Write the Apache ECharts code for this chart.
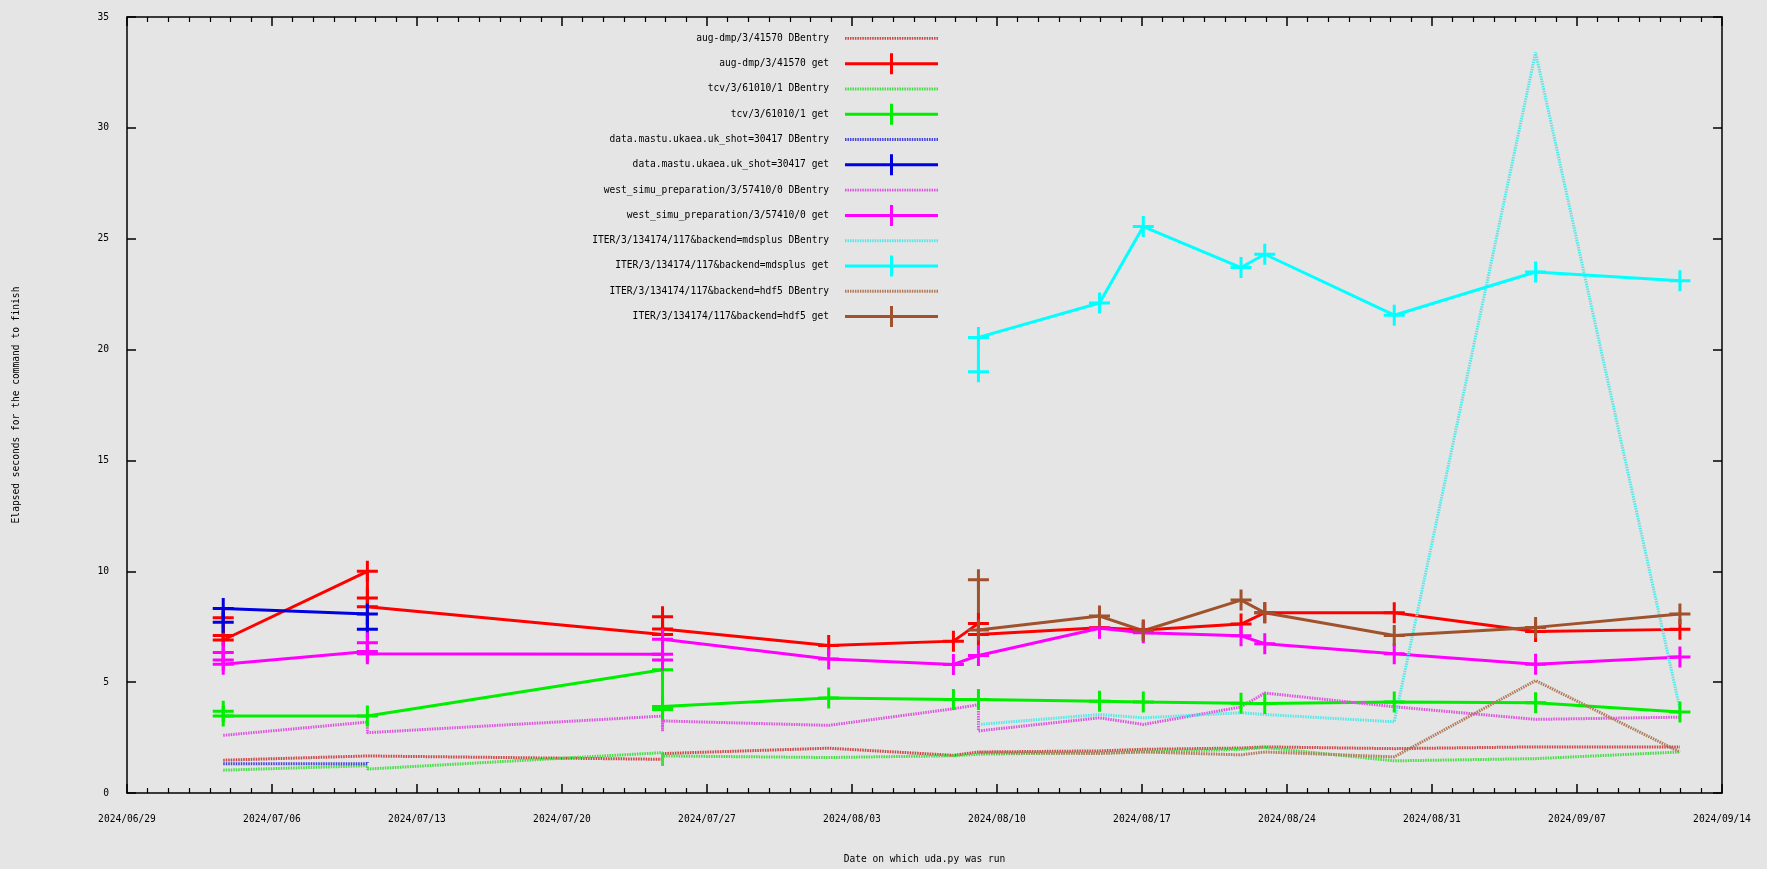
<!DOCTYPE html>
<html><head><meta charset="utf-8">
<script src="https://cdn.jsdelivr.net/npm/echarts@6/dist/echarts.min.js"></script>
<style>html,body{margin:0;padding:0;background:#e5e5e5}#c{width:1767px;height:869px}</style>
</head><body><div id="c"></div>
<script>
// ---- axis definitions ----
const axisStartDate = '2024-06-29 00:00';
const axisEndDate = '2024-09-14 00:00';
const xTickDays = 7;            // one labelled tick per week
const yMin = 0, yMax = 35, yStep = 5;
const xTitle = 'Date on which uda.py was run';
const yTitle = 'Elapsed seconds for the command to finish';

// ---- series data (run date/time, elapsed seconds) ----
const augDbDates = ['2024-07-03 15:30','2024-07-10 14:30','2024-07-10 14:30','2024-07-24 20:30','2024-07-24 20:30','2024-08-01 21:00','2024-08-07 21:30','2024-08-09 02:30','2024-08-14 22:45','2024-08-17 01:30','2024-08-21 18:45','2024-08-22 22:15','2024-08-29 04:15','2024-09-05 00:00','2024-09-11 23:15'];
const augDbValues = [1.48,1.67,1.75,1.52,1.78,2.02,1.7,1.85,1.9,1.97,2.03,2.08,2.0,2.08,2.08];

const augGetDates = ['2024-07-03 15:30','2024-07-03 15:30','2024-07-03 15:30','2024-07-10 14:30','2024-07-10 14:30','2024-07-10 14:30','2024-07-24 20:30','2024-07-24 20:30','2024-07-24 20:30','2024-08-01 21:00','2024-08-07 21:30','2024-08-09 02:30','2024-08-09 02:30','2024-08-14 22:45','2024-08-17 01:30','2024-08-21 18:45','2024-08-22 22:15','2024-08-29 04:15','2024-09-05 00:00','2024-09-11 23:15'];
const augGetValues = [7.9,7.1,6.9,10.0,8.8,8.4,7.15,7.95,7.4,6.65,6.85,7.65,7.15,7.45,7.35,7.62,8.13,8.13,7.28,7.38];

const tcvDbDates = ['2024-07-03 15:30','2024-07-10 14:30','2024-07-10 14:30','2024-07-24 20:30','2024-07-24 20:30','2024-07-24 20:30','2024-08-01 21:00','2024-08-07 21:30','2024-08-09 02:30','2024-08-14 22:45','2024-08-17 01:30','2024-08-21 18:45','2024-08-22 22:15','2024-08-29 04:15','2024-09-05 00:00','2024-09-11 23:15'];
const tcvDbValues = [1.03,1.23,1.08,1.82,1.22,1.67,1.6,1.68,1.75,1.82,1.85,1.97,2.05,1.45,1.55,1.85];

const tcvGetDates = ['2024-07-03 15:30','2024-07-03 15:30','2024-07-10 14:30','2024-07-24 20:30','2024-07-24 20:30','2024-07-24 20:30','2024-08-01 21:00','2024-08-07 21:30','2024-08-09 02:30','2024-08-14 22:45','2024-08-17 01:30','2024-08-21 18:45','2024-08-22 22:15','2024-08-29 04:15','2024-09-05 00:00','2024-09-11 23:15'];
const tcvGetValues = [3.69,3.47,3.47,5.56,3.77,3.9,4.29,4.22,4.22,4.14,4.11,4.05,4.04,4.1,4.07,3.65];

const mastuDbDates = ['2024-07-03 15:30','2024-07-10 14:30','2024-07-10 14:30'];
const mastuDbValues = [1.32,1.32,1.4];

const mastuGetDates = ['2024-07-03 15:30','2024-07-03 15:30','2024-07-10 14:30','2024-07-10 14:30'];
const mastuGetValues = [7.7,8.32,8.07,7.38];

const westDbDates = ['2024-07-03 15:30','2024-07-10 14:30','2024-07-10 14:30','2024-07-24 20:30','2024-07-24 20:30','2024-07-24 20:30','2024-08-01 21:00','2024-08-07 21:30','2024-08-09 02:30','2024-08-09 02:30','2024-08-14 22:45','2024-08-17 01:30','2024-08-21 18:45','2024-08-22 22:15','2024-08-29 04:15','2024-09-05 00:00','2024-09-11 23:15'];
const westDbValues = [2.6,3.2,2.72,3.47,2.79,3.25,3.05,3.8,3.98,2.8,3.39,3.09,3.88,4.51,3.89,3.32,3.42];

const westGetDates = ['2024-07-03 15:30','2024-07-03 15:30','2024-07-03 15:30','2024-07-10 14:30','2024-07-10 14:30','2024-07-10 14:30','2024-07-24 20:30','2024-07-24 20:30','2024-07-24 20:30','2024-08-01 21:00','2024-08-07 21:30','2024-08-09 02:30','2024-08-14 22:45','2024-08-17 01:30','2024-08-21 18:45','2024-08-22 22:15','2024-08-29 04:15','2024-09-05 00:00','2024-09-11 23:15'];
const westGetValues = [6.34,6.0,5.81,6.38,6.78,6.28,6.26,6.0,6.93,6.04,5.8,6.2,7.43,7.23,7.09,6.73,6.28,5.81,6.13];

const mdsDbDates = ['2024-08-09 02:30','2024-08-14 22:45','2024-08-17 01:30','2024-08-21 18:45','2024-08-22 22:15','2024-08-29 04:15','2024-09-05 00:00','2024-09-11 23:15'];
const mdsDbValues = [3.09,3.54,3.39,3.62,3.54,3.21,33.4,3.8];

const mdsGetDates = ['2024-08-09 02:30','2024-08-09 02:30','2024-08-14 22:45','2024-08-17 01:30','2024-08-21 18:45','2024-08-22 22:15','2024-08-29 04:15','2024-09-05 00:00','2024-09-11 23:15'];
const mdsGetValues = [19.0,20.55,22.1,25.55,23.7,24.3,21.55,23.5,23.1];

const hdfDbDates = ['2024-08-09 02:30','2024-08-14 22:45','2024-08-17 01:30','2024-08-21 18:45','2024-08-22 22:15','2024-08-29 04:15','2024-09-05 00:00','2024-09-11 23:15'];
const hdfDbValues = [1.82,1.78,1.85,1.72,1.85,1.63,5.07,1.85];

const hdfGetDates = ['2024-08-09 02:30','2024-08-09 02:30','2024-08-14 22:45','2024-08-17 01:30','2024-08-21 18:45','2024-08-22 22:15','2024-08-29 04:15','2024-09-05 00:00','2024-09-11 23:15'];
const hdfGetValues = [9.62,7.35,7.98,7.32,8.7,8.13,7.1,7.47,8.07];

// ---- helpers ----
const DAY = 86400000;
const toMs = s => Date.parse(s.replace(' ', 'T') + ':00Z');
const t0 = toMs(axisStartDate);
const dayOf = s => (toMs(s) - t0) / DAY;
const xMaxDays = dayOf(axisEndDate);
const pad = n => (n < 10 ? '0' : '') + n;
const fmtDay = v => { const d = new Date(t0 + v * DAY); return d.getUTCFullYear() + '/' + pad(d.getUTCMonth() + 1) + '/' + pad(d.getUTCDate()); };
const pairs = (dates, vals) => dates.map((d, i) => [dayOf(d), vals[i]]);

const FONT = '"DejaVu Sans Mono", "Liberation Mono", monospace';
const FS = 9.6;
const CROSS = 'path://M-1.5,-10.5L1.5,-10.5L1.5,-1.5L10.5,-1.5L10.5,1.5L1.5,1.5L1.5,10.5L-1.5,10.5L-1.5,1.5L-10.5,1.5L-10.5,-1.5L-1.5,-1.5Z';
const LEGEND_GET_ICON = 'path://M0,9L45,9L45,0L48,0L48,9L93,9L93,12L48,12L48,21L45,21L45,12L0,12Z';
// dotted legend sample; the zero-area first sub-path keeps the icon box 21px tall
let dotted = 'M0,0L0,21L0,0Z';
for (let x = 0; x < 93; x += 2.5) dotted += 'M' + x + ',9L' + (x + 1.5) + ',9L' + (x + 1.5) + ',12L' + x + ',12Z';
const LEGEND_DB_ICON = 'path://' + dotted;

const defs = [
  ['aug-dmp/3/41570 DBentry', augDbDates, augDbValues, '#cc4444', false],
  ['aug-dmp/3/41570 get', augGetDates, augGetValues, '#ff0000', true],
  ['tcv/3/61010/1 DBentry', tcvDbDates, tcvDbValues, '#44dd44', false],
  ['tcv/3/61010/1 get', tcvGetDates, tcvGetValues, '#00ee00', true],
  ['data.mastu.ukaea.uk_shot=30417 DBentry', mastuDbDates, mastuDbValues, '#4444dd', false],
  ['data.mastu.ukaea.uk_shot=30417 get', mastuGetDates, mastuGetValues, '#0000e0', true],
  ['west_simu_preparation/3/57410/0 DBentry', westDbDates, westDbValues, '#dd55dd', false],
  ['west_simu_preparation/3/57410/0 get', westGetDates, westGetValues, '#ff00ff', true],
  ['ITER/3/134174/117&backend=mdsplus DBentry', mdsDbDates, mdsDbValues, '#55e8e8', false],
  ['ITER/3/134174/117&backend=mdsplus get', mdsGetDates, mdsGetValues, '#00ffff', true],
  ['ITER/3/134174/117&backend=hdf5 DBentry', hdfDbDates, hdfDbValues, '#b07a5a', false],
  ['ITER/3/134174/117&backend=hdf5 get', hdfGetDates, hdfGetValues, '#a0522d', true]
];

const series = defs.map(([name, dates, vals, color, isGet]) => ({
  name, type: 'line', data: pairs(dates, vals), color,
  symbol: isGet ? CROSS : 'none', symbolSize: 21, showAllSymbol: true,
  itemStyle: { color },
  lineStyle: isGet ? { color, width: 3 } : { color, width: 3, type: [1.5, 1] },
  emphasis: { disabled: true }, animation: false, clip: true
}));

const axisLineStyle = { color: '#000', width: 1.5 };
const labelStyle = { fontFamily: FONT, fontSize: FS, color: '#000' };

const option = {
  backgroundColor: '#e5e5e5',
  animation: false,
  grid: { left: 127, right: 45, top: 17, bottom: 68, containLabel: false },
  legend: {
    orient: 'vertical', align: 'right', right: 829, top: 28, padding: 0,
    itemWidth: 93, itemHeight: 21, itemGap: 4.4,
    textStyle: { fontFamily: FONT, fontSize: FS, color: '#000', padding: [0, 11, 0, 0] },
    data: defs.map(([name, , , , isGet]) => ({ name, icon: isGet ? LEGEND_GET_ICON : LEGEND_DB_ICON })),
    selectedMode: false
  },
  xAxis: [{
    type: 'value', min: 0, max: xMaxDays, interval: xTickDays, position: 'bottom',
    axisLine: { show: true, onZero: false, lineStyle: axisLineStyle },
    axisTick: { show: true, inside: true, length: 9, lineStyle: axisLineStyle },
    minorTick: { show: true, splitNumber: 7, length: 5, lineStyle: { color: '#000', width: 1.2 } },
    splitLine: { show: false },
    axisLabel: Object.assign({ formatter: fmtDay, margin: 21 }, labelStyle),
    name: xTitle, nameLocation: 'middle', nameGap: 61, nameTextStyle: labelStyle
  }, {
    type: 'value', min: 0, max: xMaxDays, interval: xTickDays, position: 'top',
    axisLine: { show: true, onZero: false, lineStyle: axisLineStyle },
    axisTick: { show: true, inside: true, length: 9, lineStyle: axisLineStyle },
    minorTick: { show: true, splitNumber: 7, length: 5, lineStyle: { color: '#000', width: 1.2 } },
    splitLine: { show: false }, axisLabel: { show: false }
  }],
  yAxis: [{
    type: 'value', min: yMin, max: yMax, interval: yStep, position: 'left',
    axisLine: { show: true, onZero: false, lineStyle: axisLineStyle },
    axisTick: { show: true, inside: true, length: 9, lineStyle: axisLineStyle },
    splitLine: { show: false },
    axisLabel: Object.assign({ margin: 18 }, labelStyle),
    name: yTitle, nameLocation: 'middle', nameGap: 106, nameRotate: 90, nameTextStyle: labelStyle
  }, {
    type: 'value', min: yMin, max: yMax, interval: yStep, position: 'right',
    axisLine: { show: true, onZero: false, lineStyle: axisLineStyle },
    axisTick: { show: true, inside: true, length: 9, lineStyle: axisLineStyle },
    splitLine: { show: false }, axisLabel: { show: false }
  }],
  series
};

const chart = echarts.init(document.getElementById('c'), null, { renderer: 'canvas' });
chart.setOption(option);
</script>
</body></html>
